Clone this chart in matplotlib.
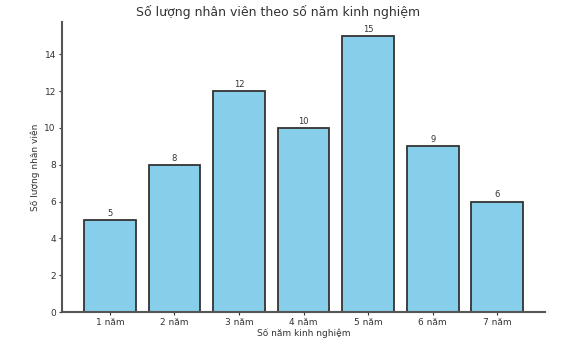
import matplotlib
matplotlib.use("Agg")
import matplotlib.pyplot as plt

categories = ["1 năm", "2 năm", "3 năm", "4 năm", "5 năm", "6 năm", "7 năm"]
counts = [5, 8, 12, 10, 15, 9, 6]

fig = plt.figure(figsize=(5.75, 3.48), dpi=100)
ax = fig.add_axes([0.108, 0.103, 0.84, 0.834])

bars = ax.bar(categories, counts, width=0.8, color="skyblue", edgecolor="#333333", linewidth=1.3)
for b, v in zip(bars, counts):
    ax.text(b.get_x() + b.get_width() / 2, v + 0.12, str(v), ha="center", va="bottom", fontsize=6, color="#333333")

fig.text(0.484, 0.965, "Số lượng nhân viên theo số năm kinh nghiệm", ha="center", va="center",
         fontsize=9, color="#333333")
ax.set_xlabel("Số năm kinh nghiệm", fontsize=6.5, color="#333333", labelpad=1)
ax.set_ylabel("Số lượng nhân viên", fontsize=6.5, color="#333333", labelpad=3)
ax.tick_params(labelsize=6.5, colors="#333333", length=2.5, pad=2)

for s in ["top", "right"]:
    ax.spines[s].set_visible(False)
for s in ["left", "bottom"]:
    ax.spines[s].set_linewidth(1.5)
    ax.spines[s].set_color("#555555")

fig.savefig("out.png", dpi=100)
